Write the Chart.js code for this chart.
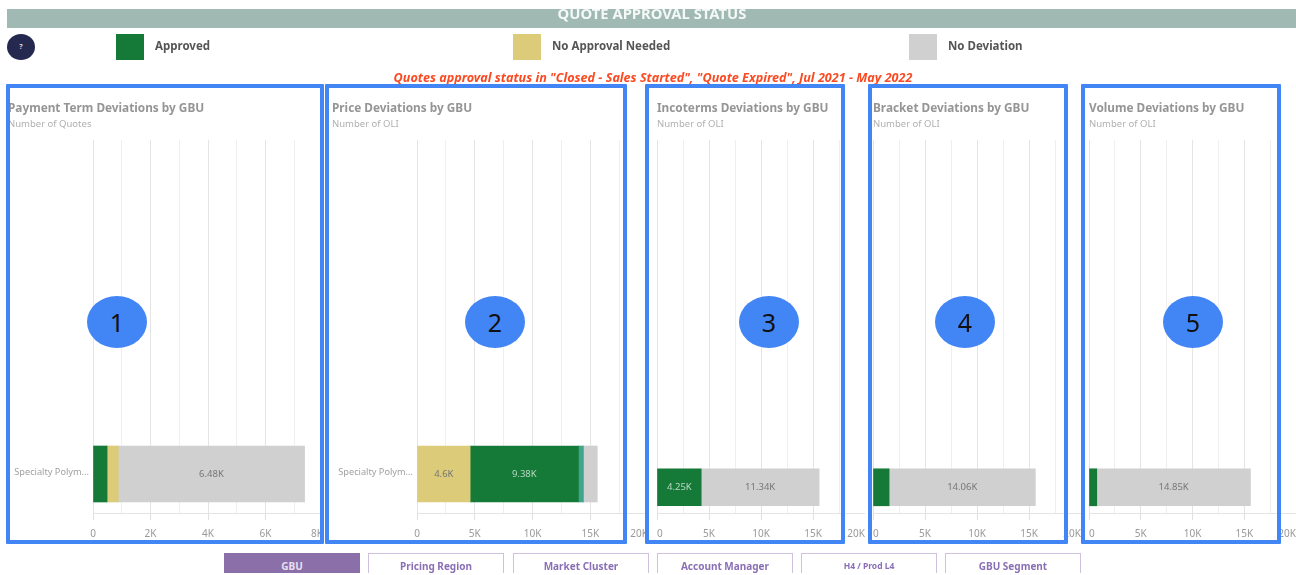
<!DOCTYPE html>
<html>
<head>
<meta charset="utf-8">
<title>Quote Approval Status</title>
<script src="https://cdn.jsdelivr.net/npm/chart.js@4"></script>
<style>
html, body { margin: 0; padding: 0; background: #fff; }
body { width: 1296px; height: 575px; overflow: hidden; position: relative; font-family: "Noto Sans", sans-serif; }
#page { position: absolute; left: 0; top: 0; width: 1296px; height: 575px; filter: blur(0.45px); overflow: hidden; }
#page > * { position: absolute; }
canvas { display: block; }
.band { left: 7px; top: 9px; width: 1289px; height: 19px; background: #a0bab3; }
.band-title { left: 452px; width: 400px; top: 3px; text-align: center; color: #f4f8f6; font-size: 14.8px; font-weight: 700; line-height: 20px; }
.help { left: 7px; top: 34px; width: 28px; height: 26px; border-radius: 50%; background: #25284f; color: #ddd; font-size: 7px; text-align: center; line-height: 26px; font-weight: 700; }
.swatch { top: 34px; width: 28px; height: 26px; }
.key { top: 38px; font-size: 11.5px; font-weight: 700; color: #555; line-height: 16px; white-space: nowrap; }
.note { left: 253px; width: 800px; top: 70px; text-align: center; color: #fb4a22; font-size: 12.6px; font-weight: 700; font-style: italic; line-height: 16px; white-space: nowrap; }
.box { border: 4px solid #4285f4; top: 84px; height: 452px; box-sizing: content-box; border-radius: 1px; }
.num { top: 296px; width: 60px; height: 52px; border-radius: 50%; background: #4285f4; color: #111; font-size: 25px; line-height: 52px; text-align: center; }
.tab { top: 553px; width: 134px; height: 19px; border: 1px solid #cfc2e0; border-bottom: none; color: #8a6fb5; font-size: 10px; font-weight: 700; text-align: center; line-height: 24px; }
.tab.on { background: #8a6fa9; border-color: #8a6fa9; color: #e8e0f0; }
</style>
</head>
<body>
<div id="page">
  <div class="band"></div>
  <div class="band-title">QUOTE APPROVAL STATUS</div>
  <div class="help">?</div>
  <div class="swatch" style="left:116px;background:#157a38"></div>
  <div class="key" style="left:155px">Approved</div>
  <div class="swatch" style="left:513px;background:#dccb78"></div>
  <div class="key" style="left:552px">No Approval Needed</div>
  <div class="swatch" style="left:909px;background:#d0d0d0"></div>
  <div class="key" style="left:948px">No Deviation</div>
  <div class="note">Quotes approval status in "Closed - Sales Started", "Quote Expired", Jul 2021 - May 2022</div>

  <canvas id="c1" width="315" height="445" style="left:8px;top:100px"></canvas>
  <canvas id="c2" width="316" height="445" style="left:332px;top:100px"></canvas>
  <canvas id="c3" width="209" height="445" style="left:656px;top:100px"></canvas>
  <canvas id="c4" width="209" height="445" style="left:872px;top:100px"></canvas>
  <canvas id="c5" width="208" height="445" style="left:1088px;top:100px"></canvas>

  <div class="box" style="left:6px;width:310px"></div>
  <div class="box" style="left:325px;width:294px"></div>
  <div class="box" style="left:645px;width:192px"></div>
  <div class="box" style="left:868px;width:192px"></div>
  <div class="box" style="left:1081px;width:192px"></div>

  <div class="num" style="left:87px">1</div>
  <div class="num" style="left:465px">2</div>
  <div class="num" style="left:739px">3</div>
  <div class="num" style="left:935px">4</div>
  <div class="num" style="left:1163px">5</div>

  <div class="tab on" style="left:224px">GBU</div>
  <div class="tab" style="left:368px">Pricing Region</div>
  <div class="tab" style="left:513px">Market Cluster</div>
  <div class="tab" style="left:657px">Account Manager</div>
  <div class="tab" style="left:801px;font-size:8.5px">H4 / Prod L4</div>
  <div class="tab" style="left:945px">GBU Segment</div>
</div>

<script>
const category = 'Specialty Polym...';

const paymentSeries = ['Approved', 'No Approval Needed', 'No Deviation'];
const paymentValues = [490, 390, 6480];
const paymentTicks = ['0', '2K', '4K', '6K', '8K'];

const priceSeries = ['No Approval Needed', 'Approved', 'Approved (other)', 'No Deviation'];
const priceValues = [4600, 9380, 430, 1200];

const incotermsSeries = ['Approved', 'No Deviation'];
const incotermsValues = [4250, 11340];

const bracketSeries = ['Approved', 'No Deviation'];
const bracketValues = [1550, 14060];

const volumeSeries = ['Approved', 'No Deviation'];
const volumeValues = [750, 14850];

const oliTicks = ['0', '5K', '10K', '15K', '20K'];

const seriesColors = {
  'Approved': '#157a38',
  'No Approval Needed': '#dccb78',
  'Approved (other)': '#3fa58c',
  'No Deviation': '#d0d0d0'
};

// value labels inside the wide enough segments
const barLabels = {
  id: 'barLabels',
  afterDatasetsDraw(chart) {
    const ctx = chart.ctx;
    ctx.save();
    ctx.font = '9.5px "Noto Sans"';
    ctx.textAlign = 'center';
    ctx.textBaseline = 'middle';
    chart.data.datasets.forEach((ds, i) => {
      const bar = chart.getDatasetMeta(i).data[0];
      if (Math.abs(bar.x - bar.base) < 30) return;
      ctx.fillStyle = ds.label === 'Approved' ? '#b9d6c2' : '#777';
      ctx.fillText((ds.data[0].x / 1000) + 'K', (bar.x + bar.base) / 2, bar.y);
    });
    ctx.restore();
  }
};

// first tick label sits centred on its tick when the chart has a left label column
const centerZero = {
  id: 'centerZero',
  beforeDraw(chart) {
    chart.scales.x.getLabelItems()[0].options.textAlign = 'center';
  }
};

function drawChart(id, title, subtitle, series, values, ticks, opts) {
  const plugins = [barLabels];
  if (opts.labelWidth) plugins.push(centerZero);
  new Chart(document.getElementById(id), {
    type: 'bar',
    data: {
      datasets: series.map((name, i) => ({
        label: name,
        data: [{ x: values[i], y: 0 }],
        backgroundColor: seriesColors[name],
        barThickness: opts.thickness
      }))
    },
    options: {
      indexAxis: 'y',
      responsive: false,
      animation: false,
      layout: { padding: { left: opts.labelWidth ? 0 : 1 } },
      plugins: {
        legend: { display: false },
        tooltip: { enabled: false },
        title: {
          display: true, text: title, align: 'start', color: '#959595',
          font: { family: 'Noto Sans', size: 11.8, weight: 'bold', lineHeight: 1.2 },
          padding: { top: 1.5, bottom: 1.5 }
        },
        subtitle: {
          display: true, text: subtitle, align: 'start', color: '#b0b0b0',
          font: { family: 'Noto Sans', size: 9.5, lineHeight: 1.2 },
          padding: { top: 1, bottom: 10.4 }
        }
      },
      scales: {
        x: {
          stacked: true, min: 0, max: opts.max,
          afterFit(s) { s.height = 31; s.paddingLeft = 0; s.paddingRight = 0; },
          border: { color: '#e4e4e4' },
          grid: {
            color: c => c.index % 2 ? '#efefef' : '#e4e4e4',
            tickColor: c => c.index % 2 ? 'rgba(0,0,0,0)' : '#e0e0e0',
            tickLength: 6
          },
          ticks: {
            stepSize: opts.max / 8, autoSkip: false, maxRotation: 0, align: 'inner',
            color: '#999', padding: 8,
            font: { family: 'Noto Sans', size: 10 },
            callback: (v, i) => i % 2 ? '' : ticks[i / 2]
          }
        },
        y: {
          type: 'linear', stacked: true, offset: false, display: !!opts.labelWidth,
          min: -0.5, max: opts.slots - 0.5,
          afterBuildTicks(s) { s.ticks = [{ value: 0 }]; },
          afterFit(s) { s.width = opts.labelWidth || 0; },
          border: { display: false },
          grid: { display: false, drawTicks: false, offset: false },
          ticks: {
            color: '#a0a0a0', padding: 4, labelOffset: -2,
            font: { family: 'Noto Sans', size: 9.2 },
            callback: () => category
          }
        }
      }
    },
    plugins: plugins
  });
}

drawChart('c1', 'Payment Term Deviations by GBU', 'Number of Quotes', paymentSeries, paymentValues, paymentTicks,
  { max: 8000, slots: 4.675, thickness: 56, labelWidth: 85 });
drawChart('c2', 'Price Deviations by GBU', 'Number of OLI', priceSeries, priceValues, oliTicks,
  { max: 20000, slots: 4.675, thickness: 56, labelWidth: 85 });
drawChart('c3', 'Incoterms Deviations by GBU', 'Number of OLI', incotermsSeries, incotermsValues, oliTicks,
  { max: 20000, slots: 7, thickness: 37 });
drawChart('c4', 'Bracket Deviations by GBU', 'Number of OLI', bracketSeries, bracketValues, oliTicks,
  { max: 20000, slots: 7, thickness: 37 });
drawChart('c5', 'Volume Deviations by GBU', 'Number of OLI', volumeSeries, volumeValues, oliTicks,
  { max: 20000, slots: 7, thickness: 37 });
</script>
</body>
</html>
